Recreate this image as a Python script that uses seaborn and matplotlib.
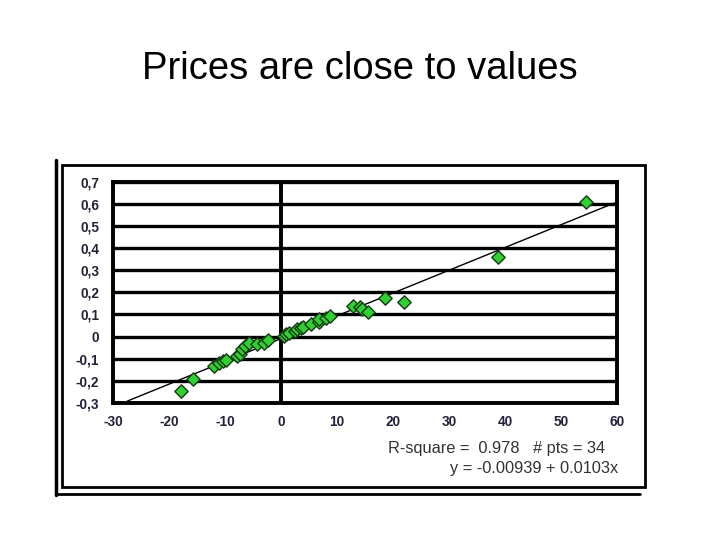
import numpy as np
import pandas as pd
import matplotlib
matplotlib.use("Agg")
import matplotlib.pyplot as plt
from matplotlib.patches import Rectangle
from matplotlib.lines import Line2D
import seaborn as sns

# valeurs
value_dev = [-17.8, -15.8, -11.9, -11.0, -10.4, -9.8, -7.8, -7.4, -7.0, -6.5,
             -5.8, -4.3, -3.0, -2.4, 0.5, 0.9, 1.5, 2.5, 2.9, 3.5,
             4.0, 5.3, 6.7, 6.8, 8.0, 8.75, 12.9, 14.1, 14.5, 15.5,
             18.5, 22.0, 38.7, 54.5]
price_dev = [-0.245, -0.19, -0.133, -0.12, -0.112, -0.107, -0.09, -0.078, -0.058, -0.045,
             -0.03, -0.032, -0.028, -0.015, 0.003, 0.01, 0.015, 0.027, 0.034, 0.038,
             0.045, 0.056, 0.065, 0.078, 0.085, 0.092, 0.138, 0.134, 0.125, 0.11,
             0.175, 0.155, 0.36, 0.61]
intercept = -0.00939
slope = 0.0103
fit_range = [-27.5, 59.5]
x_ticks = [-30, -20, -10, 0, 10, 20, 30, 40, 50, 60]
y_ticks = [-0.3, -0.2, -0.1, 0, 0.1, 0.2, 0.3, 0.4, 0.5, 0.6, 0.7]
y_labels = ["-0,3", "-0,2", "-0,1", "0", "0,1", "0,2", "0,3", "0,4", "0,5", "0,6", "0,7"]
stats_text = ["R-square =  0.978   # pts = 34", "y = -0.00939 + 0.0103x"]

df = pd.DataFrame({"value": value_dev, "price": price_dev})
fit_x = np.linspace(fit_range[0], fit_range[1], 50)
fit_df = pd.DataFrame({"value": fit_x, "price": intercept + slope * fit_x})

sns.set_style("white")
plt.rcParams["font.family"] = ["Liberation Sans", "DejaVu Sans"]

fig = plt.figure(figsize=(7.2, 5.4), dpi=100)
ax = fig.add_axes([0.157, 0.254, 0.700, 0.4095])

sns.lineplot(data=fit_df, x="value", y="price", ax=ax, color="black", linewidth=1.0, zorder=3)
sns.scatterplot(data=df, x="value", y="price", ax=ax, marker="D", s=46,
                color="#2fd02f", edgecolor="#173817", linewidth=1.0, zorder=4)

ax.set_xlim(-30, 60)
ax.set_ylim(-0.3, 0.7)
ax.set_xticks(x_ticks)
ax.set_xticklabels([str(t) for t in x_ticks])
ax.set_yticks(y_ticks)
ax.set_yticklabels(y_labels)
ax.tick_params(length=0, labelsize=9.8, labelcolor="#22223a")
ax.tick_params(axis="y", pad=10)
ax.tick_params(axis="x", pad=9)
for lab in ax.get_xticklabels() + ax.get_yticklabels():
    lab.set_fontweight("bold")
ax.set_xlabel("")
ax.set_ylabel("")

ax.yaxis.grid(True, color="black", linewidth=2.4)
ax.xaxis.grid(False)
ax.axvline(0, color="black", linewidth=2.8, zorder=2)
for s in ax.spines.values():
    s.set_color("black")
    s.set_linewidth(2.8)

fig.text(605 / 720, 1 - 448 / 540, stats_text[0], ha="right", va="center", fontsize=11.8,
         color="#333333")
fig.text(618 / 720, 1 - 469 / 540, stats_text[1], ha="right", va="center", fontsize=11.8,
         color="#333333")

# cadres autour du graphique
fig.add_artist(Line2D([56 / 720, 56 / 720], [1 - 160 / 540, 1 - 495 / 540], color="black", linewidth=2.5))
fig.add_artist(Rectangle((62 / 720, 1 - 487 / 540), (645 - 62) / 720, (487 - 165) / 540,
                         fill=False, edgecolor="black", linewidth=2.0))
fig.add_artist(Line2D([56 / 720, 640 / 720], [1 - 494 / 540, 1 - 494 / 540], color="black", linewidth=2.0))

fig.text(0.5, 1 - 69 / 540, "Prices are close to values", ha="center", va="center",
         fontsize=27.5, color="black")

fig.savefig("out.png", dpi=100)
